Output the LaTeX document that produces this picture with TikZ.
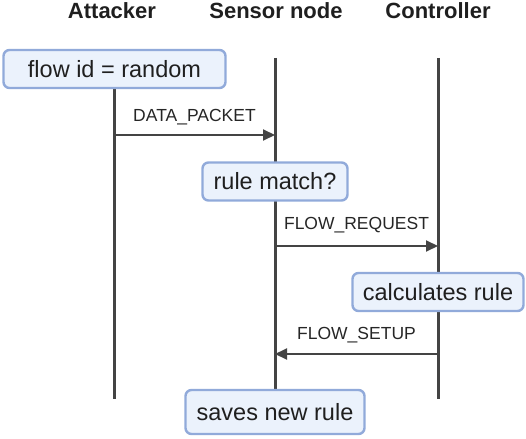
\documentclass[tikz,border=0pt]{standalone}
\usepackage{fontspec}
\setmainfont{Liberation Sans}
\usetikzlibrary{arrows.meta}
\definecolor{boxfill}{HTML}{EBF2FC}
\definecolor{boxdraw}{HTML}{91AADA}
\definecolor{lineclr}{HTML}{444444}
\begin{document}
\begin{tikzpicture}[x=1pt,y=-1pt,
  hdr/.style={font=\fontsize{22}{26}\selectfont\bfseries, text=black!88, inner sep=0pt},
  actbox/.style={draw=boxdraw, fill=boxfill, line width=2.4pt, rounded corners=6pt,
     font=\fontsize{23.5}{27}\selectfont, text=black!88, minimum height=38pt, inner sep=0pt},
  msg/.style={font=\fontsize{17.5}{20}\selectfont, text=black!85, inner sep=0pt},
  life/.style={draw=lineclr, line width=3pt},
  arr/.style={draw=lineclr, line width=2pt, -{Triangle[length=12pt,width=11pt]}}]
\useasboundingbox (0,0) rectangle (526,438);
% headers
\node[hdr] (hA) at (112,11) {Attacker};
\node[hdr] (hS) at (276,11) {Sensor node};
\node[hdr] (hC) at (438,11) {Controller};
% lifeline anchors
\coordinate (aTop) at (114,88);
\coordinate (aBot) at (114,399);
\coordinate (sTop) at (275,58);
\coordinate (sBot) at (275,395);
\coordinate (cTop) at (438,58);
\coordinate (cBot) at (438,399);
\draw[life] (aTop) -- (aBot);
\draw[life] (sTop) -- (sBot);
\draw[life] (cTop) -- (cBot);
% messages
\coordinate (m1s) at (114,135); \coordinate (m1e) at (275,135);
\coordinate (m2s) at (275,246); \coordinate (m2e) at (438,246);
\coordinate (m3s) at (438,354); \coordinate (m3e) at (275,354);
\draw[arr] (m1s) -- (m1e);
\draw[arr] (m2s) -- (m2e);
\draw[arr] (m3s) -- (m3e);
\node[msg] (l1) at (194.5,117) {DATA\_PACKET};
\node[msg] (l2) at (356.5,225) {FLOW\_REQUEST};
\node[msg] (l3) at (356.5,335) {FLOW\_SETUP};
% activity boxes
\node[actbox, minimum width=222pt] (b1) at (114.5,69) {flow id = random};
\node[actbox, minimum width=145pt] (b2) at (275,181.5) {rule match?};
\node[actbox, minimum width=171pt] (b3) at (438,292) {calculates rule};
\node[actbox, minimum width=179pt, minimum height=44pt] (b4) at (275,412) {saves new rule};
\end{tikzpicture}
\end{document}
